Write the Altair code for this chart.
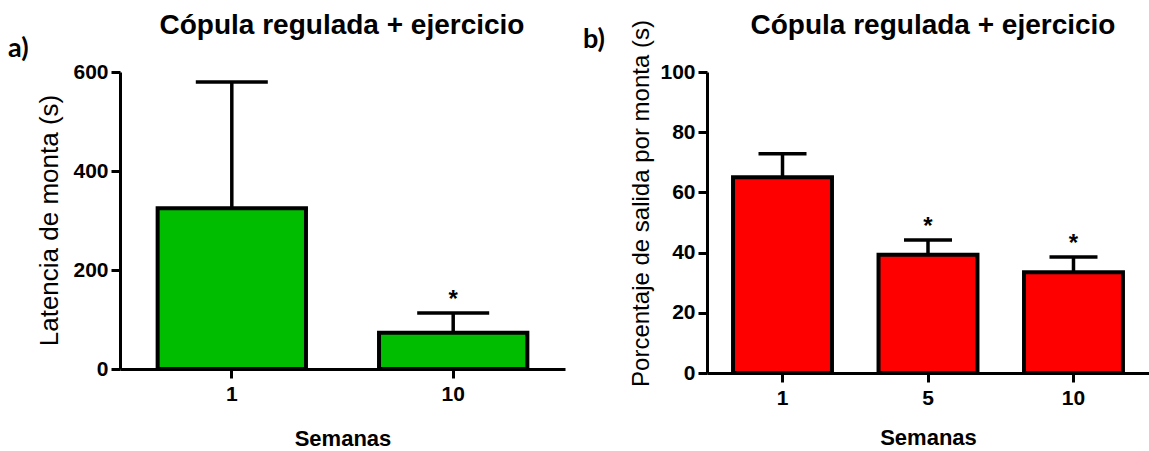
import altair as alt
import pandas as pd

# ---- data ----
weeks_a = ["1", "10"]
mean_a = [325, 73]
err_a = [255, 40]
sig_a = ["", "*"]

weeks_b = ["1", "5", "10"]
mean_b = [65, 39.3, 33.5]
err_b = [7.8, 4.9, 5.0]
sig_b = ["", "*", "*"]

title_txt = "Cópula regulada + ejercicio"
GREEN = "#00BD00"
RED = "#FF0000"
FONT = "Liberation Sans"

df_a = pd.DataFrame({"week": weeks_a, "mean": mean_a, "err": err_a, "sig": sig_a})
df_a["upper"] = df_a["mean"] + df_a["err"]
df_b = pd.DataFrame({"week": weeks_b, "mean": mean_b, "err": err_b, "sig": sig_b})
df_b["upper"] = df_b["mean"] + df_b["err"]


def panel(df, weeks, color, ymax, yvals, ytitle, ytsize, cap, w, h, pin, pout,
          letter, lx, ly, ytx, yty, xtp, tx, ty):
    xenc = alt.X(
        "week:N",
        sort=weeks,
        scale=alt.Scale(paddingInner=pin, paddingOuter=pout),
        axis=alt.Axis(title="Semanas", labelAngle=0, titlePadding=xtp),
    )
    yscale = alt.Scale(domain=[0, ymax], nice=False, zero=True)
    base = alt.Chart(df).encode(x=xenc)
    rule = base.mark_rule(color="black", strokeWidth=3.5).encode(
        y=alt.Y("mean:Q", scale=yscale), y2="upper:Q"
    )
    bars = base.mark_bar(color=color, stroke="black", strokeWidth=4, opacity=1).encode(
        y=alt.Y(
            "mean:Q",
            scale=yscale,
            axis=alt.Axis(
                values=yvals,
                format="d",
                title=ytitle,
                titleFontSize=ytsize,
                titleX=ytx,
                titleY=yty,
                titleAlign="center",
                titleBaseline="middle",
                titleAngle=270,
            ),
        )
    )
    caps = base.mark_tick(color="black", size=cap, thickness=3.5, opacity=1).encode(
        y=alt.Y("upper:Q", scale=yscale)
    )
    stars = base.mark_text(
        font=FONT, fontSize=24, fontWeight="bold", color="black", baseline="alphabetic", dy=-6
    ).encode(y=alt.Y("upper:Q", scale=yscale), text="sig:N")
    lab = (
        alt.Chart(pd.DataFrame({"t": [letter]}))
        .mark_text(font="Lato", fontSize=27, fontWeight="bold", color="black", align="left", baseline="middle")
        .encode(text="t:N", x=alt.value(lx), y=alt.value(ly))
    )
    ttl = (
        alt.Chart(pd.DataFrame({"t": [title_txt]}))
        .mark_text(font=FONT, fontSize=28, fontWeight="bold", color="black", align="center", baseline="middle")
        .encode(text="t:N", x=alt.value(tx), y=alt.value(ty))
    )
    return alt.layer(rule, bars, caps, stars, lab, ttl).properties(width=w, height=h)


pa = panel(df_a, weeks_a, GREEN, 600, [0, 200, 400, 600], "Latencia de monta (s)", 26, 72,
           445, 297, 0.33, 0.17, "a)", -112, -23, -71, 148, 24, 222, -46)
pb = panel(df_b, weeks_b, RED, 100, [0, 20, 40, 60, 80, 100], "Porcentaje de salida por monta (s)", 24, 48,
           442, 301, 0.32, 0.179, "b)", -124, -32, -66, 131, 19, 226, -46)

chart = (
    alt.hconcat(pa, pb, spacing=18)
    .properties(padding={"left": 8, "top": 12, "right": 0, "bottom": 0}, background="white")
    .configure_view(stroke=None)
    .configure_axis(
        domainColor="black",
        domainWidth=3,
        tickColor="black",
        tickWidth=3,
        tickSize=9,
        grid=False,
        labelFont=FONT,
        labelFontSize=21,
        labelFontWeight="bold",
        labelColor="black",
        labelPadding=3,
        titleFont=FONT,
        titleColor="black",
    )
    .configure_axisY(titleFontWeight="normal")
    .configure_axisX(titleFontSize=22, titleFontWeight="bold", labelPadding=5)
)

chart.save("out.html", embed_options={"renderer": "svg", "actions": False})
